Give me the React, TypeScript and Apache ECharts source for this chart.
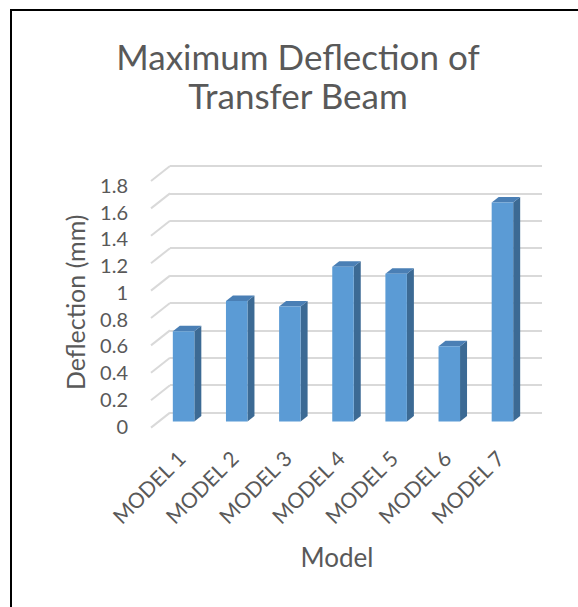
import React, { useEffect, useRef } from "react";
import * as echarts from "echarts";

// Chart data
const CATEGORIES = ["MODEL 1", "MODEL 2", "MODEL 3", "MODEL 4", "MODEL 5", "MODEL 6", "MODEL 7"];
const DEFLECTION = [0.66, 0.88, 0.84, 1.13, 1.08, 0.55, 1.6];
const Y_TICKS = [0, 0.2, 0.4, 0.6, 0.8, 1, 1.2, 1.4, 1.6, 1.8];

const FONT = "Lato, 'Noto Sans', sans-serif";
const TEXT = "#595959";

// Oblique projection of the 3-D floor/wall
const WALL_DX = -19; // back wall -> front edge
const WALL_DY = 15;
const BAR_DX = -13; // back wall -> bar front face
const BAR_DY = 9;
const BAR_W = 21.5;
const BAR_DEPTH_X = 7;
const BAR_DEPTH_Y = -5.5;

export default function App() {
  const ref = useRef<HTMLDivElement>(null);

  useEffect(() => {
    if (!ref.current) return;
    const chart = echarts.init(ref.current, null, { renderer: "svg" });

    const option: any = {
      animation: false,
      backgroundColor: "#ffffff",
      title: {
        text: "Maximum Deflection of\nTransfer Beam",
        left: 293,
        top: 31,
        textAlign: "center",
        textStyle: {
          fontFamily: FONT,
          fontWeight: "normal",
          fontSize: 35,
          lineHeight: 39,
          color: TEXT,
        },
      },
      graphic: [
        {
          type: "rect",
          shape: { x: 11, y: 10, width: 620, height: 640 },
          style: { fill: "none", stroke: "#000000", lineWidth: 2 },
          silent: true,
          z: 100,
        },
      ],
      grid: [
        // back wall
        { left: 170, right: 36, top: 166, bottom: 194.4 },
        // front edge, where the value labels sit
        { left: 170, right: 36, top: 185, bottom: 181.5 },
      ],
      xAxis: [
        {
          type: "category",
          gridIndex: 0,
          data: CATEGORIES,
          axisLine: { show: false },
          axisTick: { show: false },
          axisLabel: {
            rotate: 45,
            interval: 0,
            margin: 57,
            verticalAlign: "bottom",
            lineHeight: 44,
            fontFamily: FONT,
            fontSize: 21,
            color: TEXT,
          },
          name: "Model",
          nameLocation: "middle",
          nameGap: 131,
          nameTextStyle: {
            fontFamily: FONT,
            fontSize: 26,
            color: TEXT,
            padding: [0, 38, 0, 0],
          },
        },
        {
          type: "category",
          gridIndex: 1,
          data: CATEGORIES,
          show: false,
        },
      ],
      yAxis: [
        {
          type: "value",
          gridIndex: 0,
          min: 0,
          max: 1.8,
          interval: 0.2,
          axisLine: { show: false },
          axisTick: { show: false },
          axisLabel: { show: false },
          splitLine: { lineStyle: { color: "#d9d9d9", width: 2 } },
          name: "Deflection (mm)",
          nameLocation: "middle",
          nameGap: 83,
          nameTextStyle: {
            fontFamily: FONT,
            fontSize: 25,
            color: TEXT,
            padding: [0, 26, 0, 0],
          },
        },
        {
          type: "value",
          gridIndex: 1,
          min: 0,
          max: 1.8,
          interval: 0.2,
          axisLine: { show: false },
          axisTick: { show: false },
          splitLine: { show: false },
          axisLabel: {
            margin: 42,
            fontFamily: FONT,
            fontSize: 20,
            color: TEXT,
            formatter: (v: number) => String(Math.round(v * 10) / 10),
          },
        },
      ],
      series: [
        {
          // diagonal floor/wall edges of the gridlines
          type: "custom",
          xAxisIndex: 0,
          yAxisIndex: 0,
          silent: true,
          z: 1,
          data: Y_TICKS.map((v) => [0, v]),
          renderItem: (params: any, api: any) => {
            const y = api.coord([0, api.value(1)])[1];
            const x = params.coordSys.x;
            return {
              type: "line",
              shape: { x1: x, y1: y, x2: x + WALL_DX, y2: y + WALL_DY },
              style: { stroke: "#d9d9d9", lineWidth: 2 },
            };
          },
        },
        {
          type: "custom",
          xAxisIndex: 0,
          yAxisIndex: 0,
          z: 5,
          data: DEFLECTION.map((v, i) => [i, v]),
          renderItem: (params: any, api: any) => {
            const top = api.coord([api.value(0), api.value(1)]);
            const base = api.coord([api.value(0), 0]);
            const x0 = top[0] + BAR_DX - BAR_W / 2;
            const x1 = x0 + BAR_W;
            const yT = top[1] + BAR_DY;
            const yB = base[1] + BAR_DY;
            return {
              type: "group",
              children: [
                {
                  type: "polygon",
                  shape: {
                    points: [
                      [x1, yT],
                      [x1 + BAR_DEPTH_X, yT + BAR_DEPTH_Y],
                      [x1 + BAR_DEPTH_X, yB + BAR_DEPTH_Y],
                      [x1, yB],
                    ],
                  },
                  style: { fill: "#3c6a94" },
                },
                {
                  type: "polygon",
                  shape: {
                    points: [
                      [x0, yT],
                      [x0 + BAR_DEPTH_X, yT + BAR_DEPTH_Y],
                      [x1 + BAR_DEPTH_X, yT + BAR_DEPTH_Y],
                      [x1, yT],
                    ],
                  },
                  style: { fill: "#4a7fb5" },
                },
                {
                  type: "rect",
                  shape: { x: x0, y: yT, width: BAR_W, height: yB - yT },
                  style: { fill: "#5b9bd5" },
                },
              ],
            };
          },
        },
      ],
    };

    chart.setOption(option);
    return () => chart.dispose();
  }, []);

  return (
    <div
      ref={ref}
      style={{ position: "fixed", left: 0, top: 0, width: 578, height: 607 }}
    />
  );
}
